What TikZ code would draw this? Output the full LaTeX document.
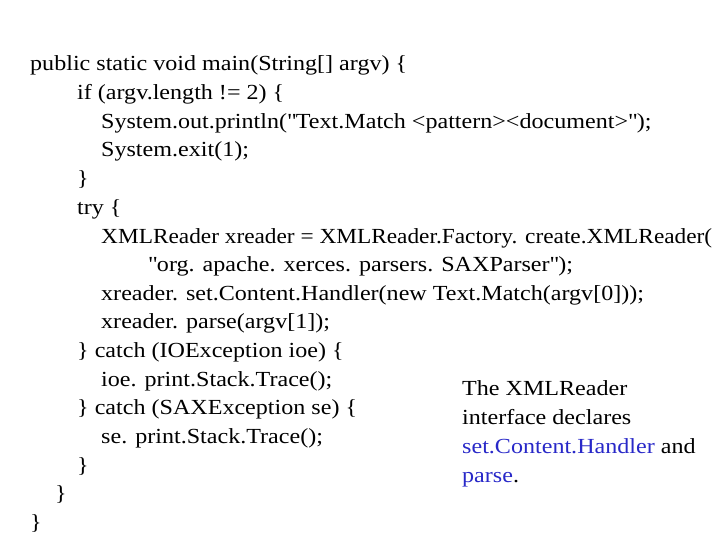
\documentclass[tikz,border=0pt]{standalone}
\usepackage{fontspec}
\setmainfont{Liberation Serif}[FakeStretch=1.12]
\definecolor{keyblue}{RGB}{40,40,200}
\newcommand{\dq}{\textquotedbl}
\tikzset{codeline/.style={anchor=base west, inner sep=0pt, font=\fontsize{21.5}{25}\selectfont}}
\begin{document}
\begin{tikzpicture}[x=1pt,y=-1pt]
\useasboundingbox (0,0) rectangle (720,540);
% code listing, one node per line
\node[codeline] (l0)  at (30,71)    {public static void main(String[] argv) \{};
\node[codeline] (l1)  at (77,99.6)  {if (argv.length != 2) \{};
\node[codeline] (l2)  at (101,128.3){System.out.println(\dq Text.Match <pattern><document>\dq);};
\node[codeline] (l3)  at (101,157)  {System.exit(1);};
\node[codeline] (l4)  at (77,185.6) {\}};
\node[codeline] (l5)  at (77,214.3) {try \{};
\node[codeline] (l6)  at (101,243)  {\resizebox{611pt}{\height}{XMLReader xreader = XMLReader.Factory. create.XMLReader(}};
\node[codeline] (l7)  at (148,271.6){\dq org. apache. xerces. parsers. SAXParser\dq);};
\node[codeline] (l8)  at (101,300.2){xreader. set.Content.Handler(new Text.Match(argv[0]));};
\node[codeline] (l9)  at (101,328.9){xreader. parse(argv[1]);};
\node[codeline] (l10) at (77,357.5) {\} catch (IOException ioe) \{};
\node[codeline] (l11) at (101,386.2){ioe. print.Stack.Trace();};
\node[codeline] (l12) at (77,414.8) {\} catch (SAXException se) \{};
\node[codeline] (l13) at (101,443.5){se. print.Stack.Trace();};
\node[codeline] (l14) at (77,472.1) {\}};
\node[codeline] (l15) at (55,500.8) {\}};
\node[codeline] (l16) at (30,529.4) {\}};
% side note
\node[codeline] (n1) at (462,395)   {The XMLReader};
\node[codeline] (n2) at (462,424)   {interface declares};
\node[codeline] (n3) at (462,453)   {\textcolor{keyblue}{set.Content.Handler} and};
\node[codeline] (n4) at (462,482)   {\textcolor{keyblue}{parse}.};
\end{tikzpicture}
\end{document}
